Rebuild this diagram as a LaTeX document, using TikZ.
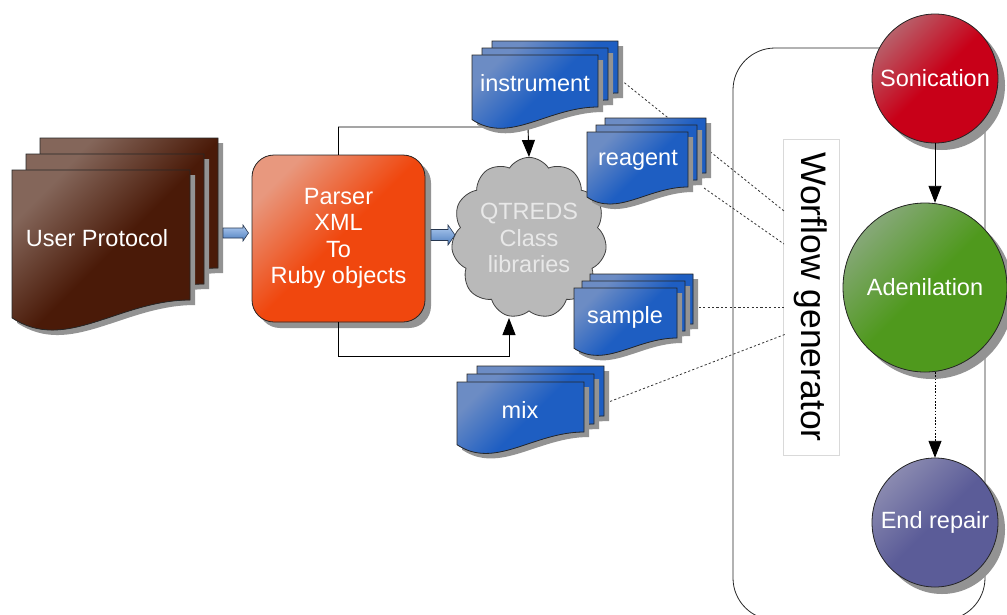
\documentclass[tikz,border=0pt]{standalone}
\usepackage{fontspec}
\setmainfont{Liberation Sans}
\usetikzlibrary{shapes.geometric,shapes.symbols,arrows.meta,calc}
\definecolor{brownD}{HTML}{4A1A08}
\definecolor{brownH}{HTML}{84665A}
\definecolor{orangeD}{HTML}{F0470E}
\definecolor{orangeH}{HTML}{E8987E}
\definecolor{blueD}{HTML}{1E5EC2}
\definecolor{blueH}{HTML}{6C8CC4}
\definecolor{cloudG}{HTML}{B9B9B9}
\definecolor{cloudT}{HTML}{E8E8E8}
\definecolor{redD}{HTML}{C80018}
\definecolor{redH}{HTML}{B8606A}
\definecolor{greenD}{HTML}{4F991D}
\definecolor{greenH}{HTML}{86A878}
\definecolor{purpD}{HTML}{5B5C98}
\definecolor{purpH}{HTML}{8A8AB0}
\definecolor{arrL}{HTML}{B0CCF0}
\definecolor{arrD}{HTML}{4D7DBF}
\definecolor{arrE}{HTML}{26364F}
\definecolor{shadowG}{HTML}{939393}
\tikzset{
 shadsty/.style={fill=shadowG,draw=none},
 docsty/.style={draw=black!85,line width=0.8pt},
 lbl/.style={text=white,font=\fontsize{23.5}{26.5}\selectfont,align=center},
 conn/.style={draw=black,line width=0.9pt},
 dotl/.style={draw=black!80,line width=0.8pt,dash pattern=on 2.2pt off 2.2pt},
 tip/.style={-{Triangle[length=17pt,width=13pt]}},
 blk/.style={draw=arrE,line width=0.6pt,top color=arrL,bottom color=arrD},
 stagesty/.style={draw=black!85,line width=0.8pt},
 hl/.style 2 args={fill=#2,path picture={\shade[top color=#1,bottom color=#2,middle color=#2,shading angle=45] (path picture bounding box.south west) rectangle (path picture bounding box.north east);}},
}
\newcommand\docoutline{(\dxa,\dya) -- (\dxb,\dya) -- (\dxb,\dyb) .. controls ({\dxa+0.6*\dww},\dyb) and ({\dxa+0.3*\dww},{\dyb+0.3*\dww}) .. (\dxa,{\dyb+0.1*\dww}) -- cycle}
\newcommand\onedoc[6]{%
 \pgfmathsetmacro\dxa{#1}\pgfmathsetmacro\dya{#2}\pgfmathsetmacro\dxb{#3}\pgfmathsetmacro\dyb{#4}%
 \pgfmathsetmacro\dww{\dxb-\dxa}%
 \path[shadsty,shift={(5,5)}] \docoutline;
 \path[docsty,hl={#6}{#5}] \docoutline;}
\newcommand\docstack[8]{%
 \onedoc{#1+2*(#5)}{#2+2*(#6)}{#3+2*(#5)}{#4+2*(#6)}{#7}{#8}%
 \onedoc{#1+(#5)}{#2+(#6)}{#3+(#5)}{#4+(#6)}{#7}{#8}%
 \onedoc{#1}{#2}{#3}{#4}{#7}{#8}}
% stage ellipse: x, y, rx, ry, base, highlight
\newcommand\stageshape[6]{%
 \path[shadsty,shift={(7,7)}] (#1,#2) ellipse [x radius=#3, y radius=#4];
 \path[stagesty,hl={#6}{#5}] (#1,#2) ellipse [x radius=#3, y radius=#4];}
\begin{document}
\begin{tikzpicture}[x=1pt,y=-1pt]
\useasboundingbox (0,0) rectangle (1007,614);
% workflow container and label
\node[draw=black!85,line width=0.8pt,rounded corners=42pt,minimum width=252pt,minimum height=572pt,inner sep=0pt] (wfbox) at (859,334) {};
\node[draw=black!15,fill=white,rotate=-90,minimum width=316pt,minimum height=56pt,inner sep=0pt,font=\fontsize{35.5}{40}\selectfont] (wfg) at (811,297) {Worflow generator};
% connection points
\coordinate (i1) at (621,80);
\coordinate (r1) at (704,188);
\coordinate (s1) at (690,307);
\coordinate (m1) at (606,403);
\coordinate (g1) at (784,211);
\coordinate (g2) at (784,244);
\coordinate (g3) at (784,307);
\coordinate (g4) at (786,334);
\draw[dotl] (i1) -- (g1);
\draw[dotl] (r1) -- (g2);
\draw[dotl] (s1) -- (g3);
\draw[dotl] (m1) -- (g4);
% cloud and parser
\node[cloud,cloud puffs=11,cloud puff arc=115,aspect=0.95,draw=black!75,line width=0.8pt,fill=cloudG,minimum width=136pt,minimum height=140pt,inner sep=0pt,text=cloudT,font=\fontsize{23.5}{26.5}\selectfont,align=center] (cloud) at (529,238) {QTREDS\\Class\\libraries};
\path[shadsty,shift={(6,6)},rounded corners=22pt] (252,155) rectangle (425,322);
\path[docsty,hl={orangeH}{orangeD},rounded corners=22pt] (252,155) rectangle (425,322);
\node[lbl,inner sep=0pt,minimum width=173pt,minimum height=167pt] (parser) at (338.5,238.5) {\raisebox{-3pt}{\parbox{160pt}{\centering Parser\\XML\\To\\Ruby objects}}};
\coordinate (pt) at (528,127);
\coordinate (pb) at (509,356);
\coordinate (cb) at (509,318);
\draw[conn,tip] (parser.north) |- (pt) -- (cloud.north);
\draw[conn,tip] (parser.south) |- (pb) -- (cb);
% document stacks
\docstack{12}{170}{190}{300}{14}{-16}{brownD}{brownH}
\node[lbl] (up) at (97,238) {User Protocol};
\docstack{472}{55}{598}{107}{10}{-7}{blueD}{blueH}
\node[lbl] (instr) at (535,83) {instrument};
\docstack{587}{132}{688}{187}{9}{-7}{blueD}{blueH}
\node[lbl] (reag) at (638,160) {reagent};
\docstack{574}{288}{677}{338}{8}{-7}{blueD}{blueH}
\node[lbl] (samp) at (625,317) {sample};
\docstack{457}{382}{584}{432}{10}{-8}{blueD}{blueH}
\node[lbl] (mix) at (520,410) {mix};
% block arrows
\path[blk] (223,228) -- (243,228) -- (243,225) -- (248.5,233) -- (243,241) -- (243,238) -- (223,238) -- cycle;
\path[blk] (431,229.5) -- (448,229.5) -- (448,225) -- (455,235) -- (448,245) -- (448,240.5) -- (431,240.5) -- cycle;
% stages
\stageshape{935}{78.5}{63}{64.5}{redD}{redH}
\stageshape{925}{287.5}{82}{84.5}{greenD}{greenH}
\stageshape{935}{522.5}{63}{64.5}{purpD}{purpH}
\node[lbl,ellipse,inner sep=0pt,minimum width=126pt,minimum height=129pt] (son) at (935,78.5) {\makebox[0pt]{Sonication}};
\node[lbl,ellipse,inner sep=0pt,minimum width=164pt,minimum height=169pt] (ade) at (925,287.5) {\makebox[0pt]{Adenilation}};
\node[lbl,ellipse,inner sep=0pt,minimum width=126pt,minimum height=129pt] (endr) at (935,522.5) {\makebox[0pt]{End repair}};
\draw[conn,tip] (son.south) -- (son.south |- ade.north);
\draw[draw=black,line width=0.9pt,dash pattern=on 1.6pt off 1.6pt,tip] (endr.north |- ade.south) -- (endr.north);
\end{tikzpicture}
\end{document}
